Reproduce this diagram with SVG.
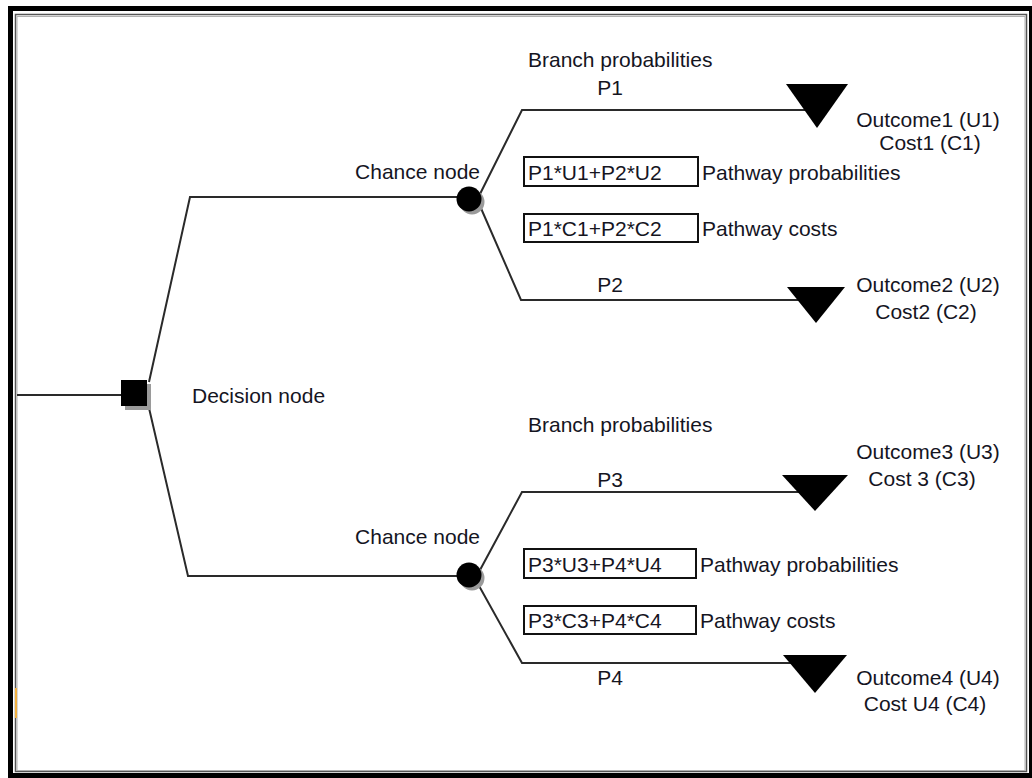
<svg xmlns="http://www.w3.org/2000/svg" width="1032" height="778" viewBox="0 0 1032 778">
  <style>
    text { font-family: "Liberation Sans", Arial, sans-serif; font-size: 21px; fill: #15151f; }
    .mid { text-anchor: middle; }
    .end { text-anchor: end; }
    .edge { fill: none; stroke: #2a2a2a; stroke-width: 2; }
    .box { fill: #ffffff; stroke: #111111; stroke-width: 2; }
    .shadow { fill: #9a9a9a; }
    .solid { fill: #000000; }
  </style>

  <!-- window frame -->
  <rect x="0" y="0" width="1032" height="778" fill="#ffffff"/>
  <path d="M8 6 H1032 V778 H8 Z M13 11 V773 H1029 V11 Z" fill="#000000" fill-rule="evenodd"/>
  <rect x="15.5" y="14.5" width="1011" height="757" fill="none" stroke="#555555" stroke-width="1.5"/>
  <rect x="17" y="16.5" width="1008" height="754" fill="none" stroke="#b0b0b0" stroke-width="1"/>
  <rect x="15" y="688" width="2" height="30" fill="#f0b040"/>

  <!-- connectors -->
  <g id="connectors">
    <path class="edge" d="M17 395 H122"/>
    <path class="edge" d="M149 382 L190 197 H458"/>
    <path class="edge" d="M149 408 L188 576 H458"/>
    <path class="edge" d="M480 194 L522 110 H805"/>
    <path class="edge" d="M480 206 L521 300 H800"/>
    <path class="edge" d="M480 570 L522 492 H800"/>
    <path class="edge" d="M478 584 L522 663 H800"/>
  </g>

  <!-- decision node -->
  <g id="decision">
    <rect class="shadow" x="125" y="384" width="26" height="26"/>
    <rect class="solid" x="121" y="380" width="26" height="26"/>
    <text x="192" y="403">Decision node</text>
  </g>

  <!-- upper chance node -->
  <g id="chance-upper">
    <circle class="shadow" cx="472" cy="202" r="12.5"/>
    <circle class="solid" cx="469" cy="199" r="12.5"/>
    <text class="end" x="480" y="179">Chance node</text>
    <text x="528" y="67">Branch probabilities</text>
    <text class="mid" x="610" y="95">P1</text>
    <text class="mid" x="610" y="292">P2</text>
  </g>

  <g id="expected-upper">
    <rect class="box" x="524" y="157" width="174" height="29"/>
    <text x="528" y="180">P1*U1+P2*U2</text>
    <text x="702" y="180">Pathway probabilities</text>
    <rect class="box" x="524" y="214" width="174" height="28"/>
    <text x="528" y="236">P1*C1+P2*C2</text>
    <text x="702" y="236">Pathway costs</text>
  </g>

  <!-- terminal nodes, upper -->
  <g id="outcome1">
    <polygon class="solid" points="786,84 848,84 817,128"/>
    <text class="mid" x="928" y="127">Outcome1 (U1)</text>
    <text class="mid" x="930" y="150">Cost1 (C1)</text>
  </g>
  <g id="outcome2">
    <polygon class="solid" points="787,287 845,287 816,323"/>
    <text class="mid" x="928" y="292">Outcome2 (U2)</text>
    <text class="mid" x="926" y="319">Cost2 (C2)</text>
  </g>

  <!-- lower chance node -->
  <g id="chance-lower">
    <circle class="shadow" cx="472" cy="578" r="12.5"/>
    <circle class="solid" cx="469" cy="575" r="12.5"/>
    <text class="end" x="480" y="544">Chance node</text>
    <text x="528" y="432">Branch probabilities</text>
    <text class="mid" x="610" y="487">P3</text>
    <text class="mid" x="610" y="685">P4</text>
  </g>

  <g id="expected-lower">
    <rect class="box" x="524" y="549" width="172" height="29"/>
    <text x="528" y="572">P3*U3+P4*U4</text>
    <text x="700" y="572">Pathway probabilities</text>
    <rect class="box" x="524" y="606" width="172" height="28"/>
    <text x="528" y="628">P3*C3+P4*C4</text>
    <text x="700" y="628">Pathway costs</text>
  </g>

  <!-- terminal nodes, lower -->
  <g id="outcome3">
    <polygon class="solid" points="782,475 848,475 815,511"/>
    <text class="mid" x="928" y="459">Outcome3 (U3)</text>
    <text class="mid" x="922" y="486">Cost 3 (C3)</text>
  </g>
  <g id="outcome4">
    <polygon class="solid" points="783,655 847,655 815,693"/>
    <text class="mid" x="928" y="685">Outcome4 (U4)</text>
    <text class="mid" x="925" y="711">Cost U4 (C4)</text>
  </g>
</svg>
